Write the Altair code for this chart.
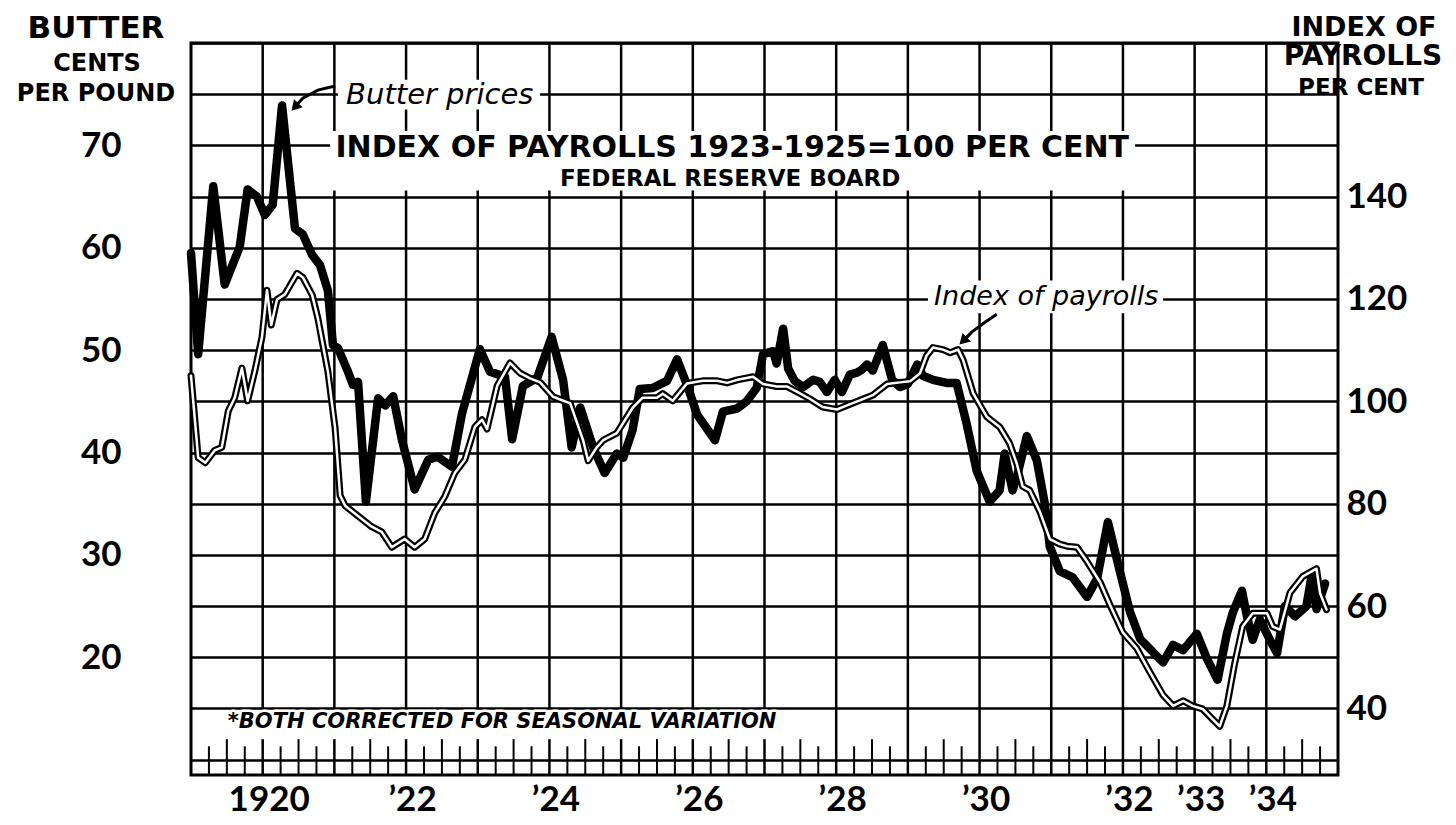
import altair as alt
import pandas as pd

# ---------------- data ----------------
butter_year = [
    1919.00, 1919.10, 1919.31, 1919.47, 1919.68, 1919.79, 1919.92,
    1920.03, 1920.14, 1920.27, 1920.45, 1920.56, 1920.69, 1920.80, 1920.91, 1920.98,
    1921.05, 1921.19, 1921.26, 1921.33, 1921.44, 1921.61, 1921.71, 1921.82, 1921.94,
    1922.12, 1922.31, 1922.44, 1922.64, 1922.78,
    1923.03, 1923.17, 1923.38, 1923.48, 1923.63, 1923.83,
    1924.03, 1924.19, 1924.31, 1924.43, 1924.61, 1924.77, 1924.94,
    1925.03, 1925.16, 1925.26, 1925.44, 1925.64, 1925.78, 1925.92,
    1926.06, 1926.20, 1926.31, 1926.42, 1926.62, 1926.75, 1926.89, 1926.98,
    1927.12, 1927.17, 1927.26, 1927.33, 1927.42, 1927.54, 1927.68, 1927.77, 1927.87, 1927.98,
    1928.08, 1928.19, 1928.29, 1928.36, 1928.43, 1928.51, 1928.65, 1928.78, 1928.89,
    1929.00, 1929.13, 1929.21, 1929.35, 1929.54, 1929.68, 1929.82, 1929.96,
    1930.14, 1930.28, 1930.35, 1930.46, 1930.53, 1930.66, 1930.80, 1930.91, 1930.98,
    1931.12, 1931.30, 1931.50, 1931.64, 1931.79, 1931.96,
    1932.10, 1932.24, 1932.42, 1932.56, 1932.70, 1932.84,
    1933.03, 1933.17, 1933.32, 1933.45, 1933.53, 1933.66, 1933.73, 1933.81, 1933.91,
    1934.05, 1934.15, 1934.26, 1934.40, 1934.56, 1934.63, 1934.70, 1934.82,
]
butter_cents = [
    59.5, 49.6, 66.0, 56.4, 60.1, 65.7, 65.0,
    63.2, 64.2, 73.9, 61.9, 61.3, 59.3, 58.3, 55.8, 50.5,
    50.2, 47.9, 46.6, 46.9, 35.2, 45.3, 44.6, 45.5, 41.3,
    36.4, 39.3, 39.6, 38.6, 43.8,
    50.1, 47.9, 47.4, 41.3, 46.5, 47.3,
    51.3, 47.1, 40.5, 44.4, 40.5, 38.0, 39.9,
    39.5, 42.2, 46.2, 46.3, 47.0, 49.1, 46.6,
    43.7, 42.3, 41.2, 44.0, 44.3, 45.0, 46.3, 49.6,
    49.9, 48.7, 52.1, 48.2, 47.0, 46.4, 47.1, 46.9, 45.9, 47.1,
    45.9, 47.6, 47.8, 48.1, 48.6, 48.0, 50.5, 47.1, 46.4,
    46.7, 48.6, 47.5, 47.1, 46.8, 46.8, 42.8, 38.2,
    35.2, 36.3, 39.9, 36.3, 37.9, 41.6, 39.2, 35.0, 30.8,
    28.4, 27.8, 25.9, 27.7, 33.2, 28.3,
    24.4, 21.8, 20.5, 19.5, 21.2, 20.7,
    22.3, 19.9, 17.8, 22.3, 24.3, 26.5, 24.0, 21.7, 23.7,
    21.7, 20.4, 25.0, 24.0, 25.0, 27.9, 24.7, 27.2,
]

payroll_year = [
    1919.00, 1919.10, 1919.20, 1919.33, 1919.43, 1919.52, 1919.61, 1919.71, 1919.79, 1919.89, 1919.99,
    1920.06, 1920.12, 1920.20, 1920.31, 1920.48, 1920.56, 1920.69, 1920.77, 1920.84, 1920.91,
    1921.01, 1921.08, 1921.15, 1921.33, 1921.52, 1921.66, 1921.80, 1921.98,
    1922.12, 1922.26, 1922.40, 1922.54, 1922.68, 1922.82, 1922.96,
    1923.06, 1923.13, 1923.27, 1923.45, 1923.59, 1923.73, 1923.87,
    1924.05, 1924.29, 1924.47, 1924.54, 1924.66, 1924.75, 1924.94,
    1925.16, 1925.30, 1925.50, 1925.58, 1925.72, 1925.92,
    1926.14, 1926.34, 1926.48, 1926.62, 1926.84, 1926.98,
    1927.17, 1927.31, 1927.45, 1927.63, 1927.81,
    1928.01, 1928.15, 1928.33, 1928.51, 1928.71, 1928.89,
    1929.03, 1929.17, 1929.26, 1929.35, 1929.49, 1929.59, 1929.70, 1929.77, 1929.91,
    1930.10, 1930.28, 1930.42, 1930.52, 1930.60, 1930.70, 1930.84, 1930.98,
    1931.12, 1931.22, 1931.36, 1931.50, 1931.68, 1931.82,
    1932.00, 1932.19, 1932.38, 1932.56, 1932.70, 1932.84, 1932.97,
    1933.11, 1933.25, 1933.35, 1933.45, 1933.56, 1933.67, 1933.81,
    1934.01, 1934.09, 1934.19, 1934.33, 1934.51, 1934.70, 1934.75, 1934.84,
]
payroll_index = [
    105.0, 89.0, 88.0, 90.4, 91.0, 98.1, 100.7, 106.5, 100.1, 105.9, 112.5,
    121.7, 114.9, 119.9, 120.9, 125.0, 124.2, 120.8, 116.2, 111.0, 105.8,
    94.8, 81.6, 79.6, 77.6, 75.5, 74.5, 71.5, 73.1,
    71.5, 73.1, 78.2, 81.4, 86.0, 88.6, 95.0,
    96.4, 94.6, 103.0, 107.5, 105.5, 104.5, 103.7,
    100.9, 99.6, 92.4, 88.4, 91.0, 92.4, 93.8,
    98.7, 100.7, 100.7, 101.5, 100.1, 103.5,
    104.0, 104.0, 103.6, 104.2, 104.8, 103.4,
    102.9, 102.9, 101.9, 100.5, 98.9,
    98.4, 99.2, 100.2, 101.2, 103.4, 103.7,
    103.9, 105.5, 108.9, 110.5, 110.1, 109.5, 110.1, 108.1, 101.6,
    97.0, 95.0, 91.8, 87.8, 83.4, 82.6, 78.5, 73.1,
    72.1, 71.7, 71.5, 68.7, 64.7, 60.2,
    54.8, 51.8, 47.0, 42.6, 40.5, 41.5, 40.5,
    39.9, 37.9, 36.5, 40.5, 48.9, 56.0, 58.6,
    58.6, 56.0, 55.4, 62.6, 65.8, 67.3, 62.5, 59.3,
]

left_tick_labels = [20, 30, 40, 50, 60, 70]
right_tick_labels = [40, 60, 80, 100, 120, 140]
year_tick_labels = [1920, 1922, 1924, 1926, 1928, 1930, 1932, 1933, 1934]

butter = pd.DataFrame({"year": butter_year, "value": butter_cents})
payroll = pd.DataFrame({"year": payroll_year, "value": payroll_index})

# ---------------- layout / style ----------------
W, H = 1147, 732
FONT = "Lato"
CAPS = "DejaVu Sans"
xs = alt.Scale(domain=[1919, 1935], nice=False, zero=False)
ys = alt.Scale(domain=[8.5, 80], nice=False, zero=False)
rs = alt.Scale(domain=[27, 170], nice=False, zero=False)

x_axis = alt.Axis(
    values=year_tick_labels, format="d", grid=False, ticks=False, domain=False,
    labelExpr="datum.value == 1920 ? '1920' : '\u2019' + substring(datum.label, 2, 4)",
    labelFont=FONT, labelFontSize=35, labelFontWeight="bold", labelColor="black",
    labelPadding=7, labelOffset=6, labelFlush=False, labelOverlap=False, title=None,
)
left_axis = alt.Axis(
    values=list(range(10, 81, 5)), orient="left", grid=True, gridColor="black",
    gridWidth=2.5, gridOpacity=1, ticks=False, domain=False,
    labelExpr=f"indexof({left_tick_labels}, datum.value) >= 0 ? datum.label : ''",
    labelFont=FONT, labelFontSize=35, labelFontWeight="bold", labelColor="black",
    labelPadding=70, labelFlush=False, labelOverlap=False, title=None,
)
right_axis = alt.Axis(
    values=right_tick_labels, orient="right", grid=False, ticks=False, domain=False,
    labelFont=FONT, labelFontSize=35, labelFontWeight="bold", labelColor="black",
    labelPadding=8, labelFlush=False, labelOverlap=False, title=None,
)


def X(field="year"):
    return alt.X(f"{field}:Q", scale=xs, axis=x_axis, title=None)


def Y(field="value"):
    return alt.Y(f"{field}:Q", scale=ys, axis=None, title=None)


layers = []

# year grid lines (left part stops above the footnote row) and the tick strip
seg_rows = []
for yv in range(1920, 1935):
    if yv <= 1927:
        seg_rows.append({"year": yv, "lo": 15.0, "hi": 80.0})
        seg_rows.append({"year": yv, "lo": 8.5, "hi": 12.0})
    else:
        seg_rows.append({"year": yv, "lo": 8.5, "hi": 80.0})
segs = pd.DataFrame(seg_rows)
layers.append(
    alt.Chart(segs).mark_rule(color="black", strokeWidth=2.5).encode(
        x=X(), y=Y("lo"), y2="hi:Q"
    )
)
tick_rows = []
for yv in range(1919, 1935):
    for q in (0.25, 0.5, 0.75):
        tick_rows.append({"year": yv + q, "lo": 8.5, "hi": 12.0 if q == 0.5 else 11.3})
ticks = pd.DataFrame(tick_rows)
layers.append(
    alt.Chart(ticks).mark_rule(color="black", strokeWidth=2).encode(
        x=X(), y=Y("lo"), y2="hi:Q"
    )
)

# white boxes that clear the grid behind the lettering
boxes = pd.DataFrame({
    "year": [1920.94, 1921.05, 1929.28],
    "year2": [1932.17, 1923.87, 1932.56],
    "value": [71.4, 76.4, 56.8],
    "value2": [65.6, 73.5, 53.6],
})
layers.append(
    alt.Chart(boxes).mark_rect(color="white", opacity=1).encode(
        x=X(), x2="year2:Q", y=Y(), y2="value2:Q"
    )
)


def plot_text(txt, yr, val, size, style="normal", weight="bold", halo=0, font=CAPS):
    df = pd.DataFrame({"year": [yr], "value": [val], "t": [txt]})
    enc = dict(x=X(), y=Y(), text="t:N")
    out = []
    if halo:
        out.append(alt.Chart(df).mark_text(
            font=font, fontSize=size, fontStyle=style, fontWeight=weight,
            color="white", stroke="white", strokeWidth=halo, strokeJoin="round",
        ).encode(**enc))
    out.append(alt.Chart(df).mark_text(
        font=font, fontSize=size, fontStyle=style, fontWeight=weight, color="black",
    ).encode(**enc))
    return out


def header(txt, px, py, size):
    df = pd.DataFrame({"t": [txt]})
    return alt.Chart(df).mark_text(
        font=CAPS, fontSize=size, fontWeight="bold", color="black"
    ).encode(x=alt.value(px), y=alt.value(py), text="t:N")


layers += plot_text("INDEX  OF  PAYROLLS  1923-1925=100  PER  CENT", 1926.55, 69.75, 30)
layers += plot_text("FEDERAL  RESERVE  BOARD", 1926.52, 66.7, 23)
layers += plot_text("Butter prices", 1922.47, 74.9, 29, style="italic", weight="normal")
layers += plot_text("Index of payrolls", 1930.93, 55.2, 27, style="italic", weight="normal")
layers += plot_text("*BOTH CORRECTED FOR SEASONAL VARIATION", 1923.34, 13.7, 21,
                    style="italic", weight="bold", halo=5)

layers += [
    header("BUTTER", -95, -14, 31),
    header("CENTS", -94, 21, 24),
    header("PER POUND", -95, 51, 24),
    header("INDEX OF", 1173, -15, 27),
    header("PAYROLLS", 1172, 14, 28),
    header("PER CENT", 1170, 45, 23),
]

# arrows
arrow_b = pd.DataFrame({"year": [1921.01, 1920.77, 1920.56, 1920.48],
                        "value": [75.8, 75.4, 74.6, 74.0], "o": [0, 1, 2, 3]})
arrow_p = pd.DataFrame({"year": [1930.24, 1930.08, 1929.89, 1929.81],
                        "value": [53.5, 52.75, 51.76, 51.17], "o": [0, 1, 2, 3]})
for adf in (arrow_b, arrow_p):
    layers.append(alt.Chart(adf).mark_line(color="black", strokeWidth=3).encode(
        x=X(), y=Y(), order="o:Q"))
head_b = pd.DataFrame({"year": [1920.45], "value": [73.75]})
head_p = pd.DataFrame({"year": [1929.77], "value": [50.9]})
layers.append(alt.Chart(head_b).mark_point(shape="triangle-up", filled=True, size=140,
                                            color="black", opacity=1, angle=222).encode(x=X(), y=Y()))
layers.append(alt.Chart(head_p).mark_point(shape="triangle-up", filled=True, size=140,
                                            color="black", opacity=1, angle=225).encode(x=X(), y=Y()))

# data lines
butter_line = alt.Chart(butter).mark_line(
    color="black", strokeWidth=8.5, strokeJoin="round", strokeCap="round"
).encode(x=X(), y=alt.Y("value:Q", scale=ys, axis=left_axis, title=None))

payroll_outer = alt.Chart(payroll).mark_line(
    color="black", strokeWidth=7, strokeJoin="round", strokeCap="round"
).encode(x=X(), y=alt.Y("value:Q", scale=rs, axis=right_axis, title=None))
payroll_inner = alt.Chart(payroll).mark_line(
    color="white", strokeWidth=2.5, strokeJoin="round", strokeCap="round"
).encode(x=X(), y=alt.Y("value:Q", scale=rs, axis=None, title=None))

layers = [butter_line] + layers + [payroll_outer, payroll_inner]

chart = (
    alt.layer(*layers)
    .resolve_scale(y="independent")
    .properties(
        width=W, height=H,
        autosize=alt.AutoSizeParams(type="none"),
        padding={"left": 183, "top": 35, "right": 110, "bottom": 42},
        background="white",
    )
    .configure_view(stroke="black", strokeWidth=3)
)

chart.save("out.html", embed_options={"renderer": "svg", "actions": False})
